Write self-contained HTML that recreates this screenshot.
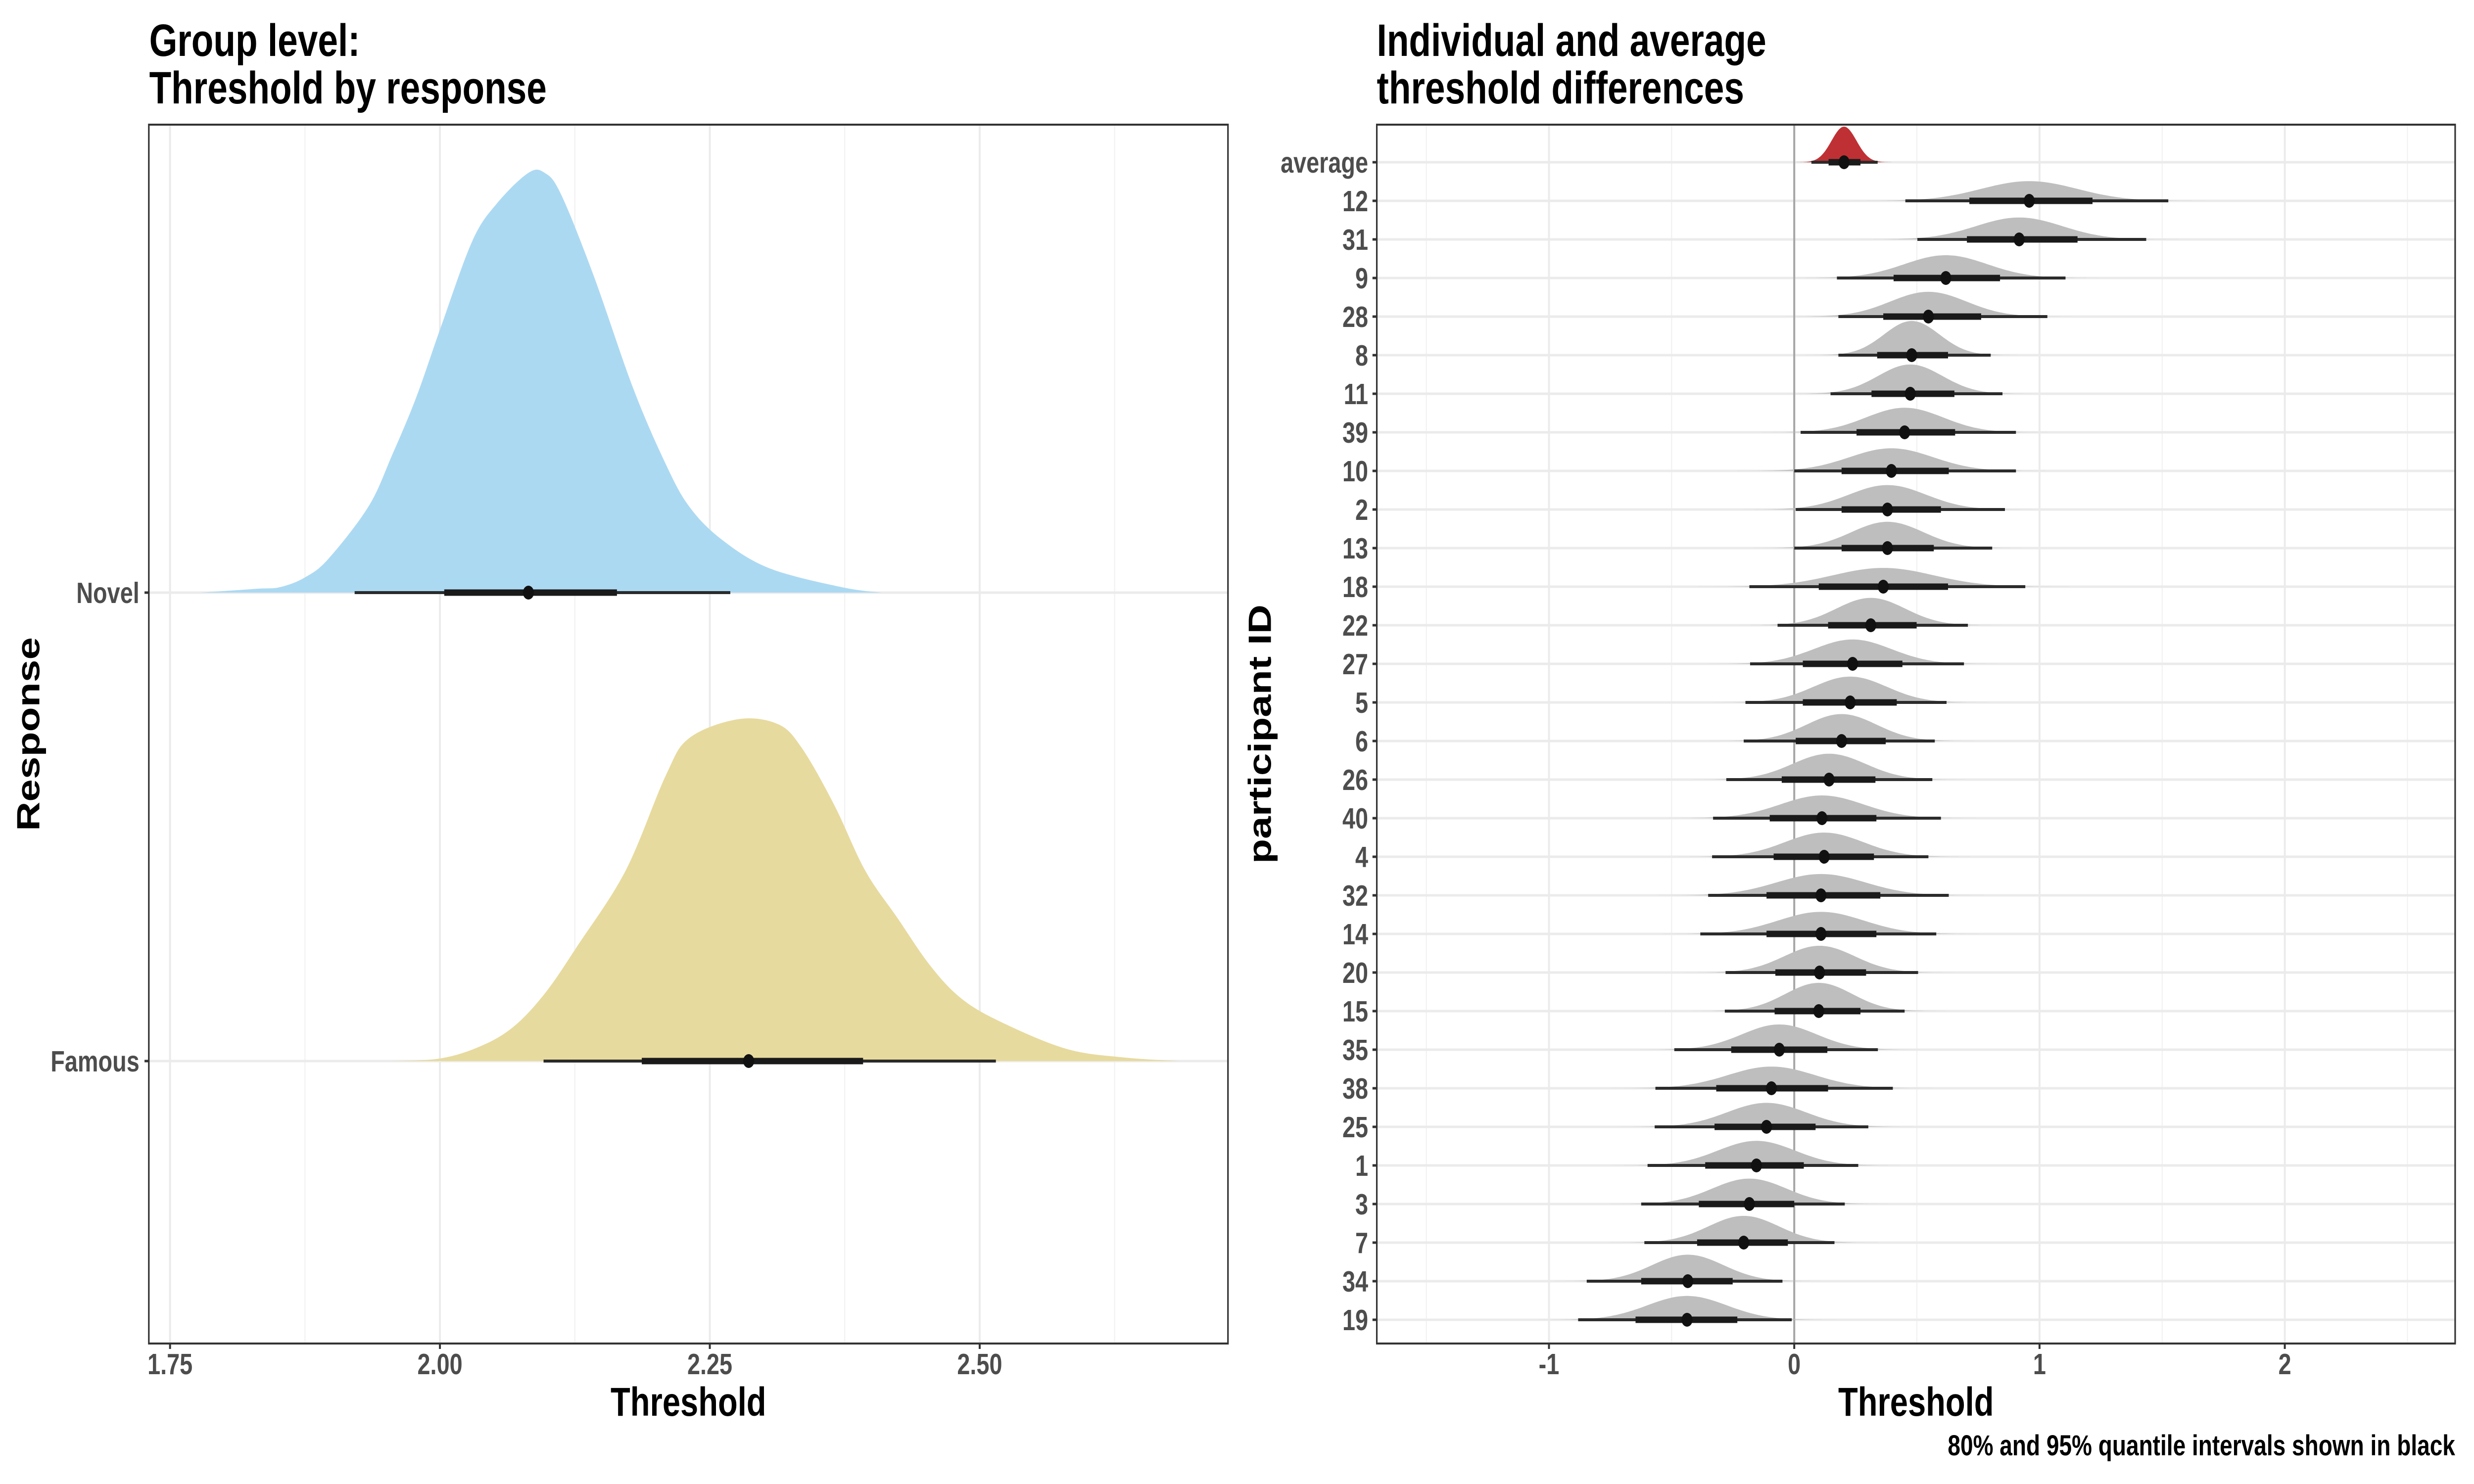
<!DOCTYPE html>
<html><head><meta charset="utf-8"><style>
html,body{margin:0;padding:0;background:#fff;width:100%;height:100%;overflow:hidden;}
svg{display:block;position:absolute;left:0;top:0;width:100vw;height:100vh;font-family:"Liberation Sans",Arial,sans-serif;}
</style></head><body>
<svg id="chart" xmlns="http://www.w3.org/2000/svg" viewBox="0 0 6300 3000" preserveAspectRatio="none">
<rect x="0" y="0" width="6300" height="3000" fill="#fff"/>
<g id="left"></g>
<g id="right"></g>
<text x="380" y="113" font-size="92" font-weight="bold" fill="#000">Group level:</text>
<text x="380" y="209" font-size="92" font-weight="bold" fill="#000">Threshold by response</text>
<text x="3506" y="113" font-size="92" font-weight="bold" fill="#000">Individual and average</text>
<text x="3506" y="209" font-size="92" font-weight="bold" fill="#000">threshold differences</text>
<text x="1753" y="2862" font-size="82" font-weight="bold" text-anchor="middle" fill="#000">Threshold</text>
<text x="4879" y="2862" font-size="82" font-weight="bold" text-anchor="middle" fill="#000">Threshold</text>
<text transform="translate(100,1484) rotate(-90)" font-size="82" font-weight="bold" text-anchor="middle" fill="#000">Response</text>
<text transform="translate(3236,1484) rotate(-90)" font-size="82" font-weight="bold" text-anchor="middle" fill="#000">participant ID</text>
<text x="6252" y="2942" font-size="58" font-weight="bold" text-anchor="end" fill="#000">80% and 95% quantile intervals shown in black</text>
</svg>
<script>
// ---------- LEFT PANEL DATA ----------
const leftCats = ['Novel', 'Famous'];
const novelX = [1.778,1.830,1.852,1.875,1.897,1.934,1.956,1.978,2.001,2.030,2.053,2.082,2.097,2.112,2.142,2.179,2.209,2.231,2.261,2.305,2.372,2.409];
const novelH = [0,0.009,0.013,0.036,0.081,0.205,0.328,0.463,0.631,0.834,0.924,0.996,0.996,0.946,0.755,0.485,0.306,0.204,0.126,0.058,0.013,0];
const famousX = [1.956,2.001,2.038,2.068,2.097,2.127,2.172,2.209,2.231,2.276,2.313,2.335,2.365,2.394,2.424,2.454,2.483,2.520,2.580,2.632,2.684];
const famousH = [0,0.008,0.044,0.100,0.197,0.335,0.557,0.834,0.945,1,0.986,0.917,0.751,0.557,0.418,0.280,0.183,0.114,0.036,0.011,0];
const leftMed  = [2.082, 2.286];
const leftLo80 = [2.004, 2.187];
const leftHi80 = [2.164, 2.392];
const leftLo95 = [1.921, 2.096];
const leftHi95 = [2.269, 2.515];
const leftTicks = [1.75, 2.00, 2.25, 2.50];
const leftTickLabels = ['1.75', '2.00', '2.25', '2.50'];
const leftMinor = [1.875, 2.125, 2.375, 2.625];

// ---------- RIGHT PANEL DATA ----------
const ids   = ['average','12','31','9','28','8','11','39','10','2','13','18','22','27','5','6','26','40','4','32','14','20','15','35','38','25','1','3','7','34','19'];
const med   = [0.203,0.958,0.917,0.618,0.547,0.479,0.473,0.450,0.396,0.380,0.380,0.363,0.312,0.238,0.228,0.193,0.142,0.113,0.122,0.109,0.109,0.103,0.100,-0.061,-0.093,-0.113,-0.154,-0.183,-0.206,-0.434,-0.437];
const lo80  = [0.14,0.714,0.704,0.405,0.363,0.338,0.315,0.254,0.193,0.193,0.193,0.100,0.138,0.035,0.035,0.006,-0.051,-0.100,-0.084,-0.113,-0.113,-0.077,-0.080,-0.257,-0.318,-0.325,-0.363,-0.389,-0.396,-0.624,-0.647];
const hi80  = [0.27,1.216,1.155,0.839,0.762,0.627,0.653,0.656,0.630,0.598,0.569,0.627,0.499,0.441,0.418,0.373,0.331,0.335,0.325,0.351,0.335,0.293,0.270,0.135,0.138,0.087,0.039,0.0,-0.026,-0.251,-0.232];
const lo95  = [0.07,0.453,0.502,0.174,0.180,0.180,0.148,0.026,0.0,0.006,0.0,-0.183,-0.068,-0.180,-0.199,-0.206,-0.277,-0.331,-0.335,-0.351,-0.383,-0.280,-0.283,-0.489,-0.566,-0.569,-0.598,-0.624,-0.611,-0.846,-0.881];
const hi95  = [0.34,1.525,1.435,1.106,1.032,0.801,0.849,0.904,0.904,0.859,0.807,0.942,0.708,0.692,0.621,0.573,0.563,0.598,0.547,0.630,0.579,0.505,0.450,0.341,0.402,0.302,0.261,0.206,0.164,-0.048,-0.010];
const rightTicks = [-1, 0, 1, 2];
const rightTickLabels = ['-1', '0', '1', '2'];
const rightMinor = [-1.5, -0.5, 0.5, 1.5, 2.5];

const NS = 'http://www.w3.org/2000/svg';
function mk(parent, tag, attrs) {
  const e = document.createElementNS(NS, tag);
  for (const k in attrs) e.setAttribute(k, attrs[k]);
  parent.appendChild(e);
  return e;
}
function smoothPath(pts) {
  let d = 'M' + pts[0][0].toFixed(1) + ',' + pts[0][1].toFixed(1);
  for (let i = 0; i < pts.length - 1; i++) {
    const p0 = pts[Math.max(0, i - 1)], p1 = pts[i], p2 = pts[i + 1], p3 = pts[Math.min(pts.length - 1, i + 2)];
    const c1x = p1[0] + (p2[0] - p0[0]) / 6, c1y = p1[1] + (p2[1] - p0[1]) / 6;
    const c2x = p2[0] - (p3[0] - p1[0]) / 6, c2y = p2[1] - (p3[1] - p1[1]) / 6;
    d += ' C' + c1x.toFixed(1) + ',' + c1y.toFixed(1) + ' ' + c2x.toFixed(1) + ',' + c2y.toFixed(1) + ' ' + p2[0].toFixed(1) + ',' + p2[1].toFixed(1);
  }
  return d;
}

// ---------- LEFT PANEL ----------
const L = document.getElementById('left');
const LB = {x0: 379, x1: 3127, y0: 252, y1: 2716};
const lx = v => 433 + (v - 1.75) * 2749;
const ly = i => 1198 + i * 947;
leftMinor.forEach(v => {
  const e = mk(L, 'line', {x1: lx(v), x2: lx(v), y1: LB.y0, y2: LB.y1, stroke: '#f0f0f0', 'stroke-width': 2.5});
  
  
});
leftTicks.forEach((v, i) => {
  const e = mk(L, 'line', {x1: lx(v), x2: lx(v), y1: LB.y0, y2: LB.y1, stroke: '#ebebeb', 'stroke-width': 5});
  
  
  const t = mk(L, 'line', {x1: lx(v), x2: lx(v), y1: LB.y1, y2: LB.y1 + 11, stroke: '#333', 'stroke-width': 5});
  
  
  const tx = mk(L, 'text', {x: lx(v), y: 2778, 'font-size': 59, 'font-weight': 'bold', fill: '#4d4d4d', 'text-anchor': 'middle'});
  tx.textContent = leftTickLabels[i];
  
  
});
leftCats.forEach((c, i) => {
  const e = mk(L, 'line', {x1: LB.x0, x2: LB.x1, y1: ly(i), y2: ly(i), stroke: '#ebebeb', 'stroke-width': 5});
  
  
  const t = mk(L, 'line', {x1: LB.x0 - 11, x2: LB.x0, y1: ly(i), y2: ly(i), stroke: '#333', 'stroke-width': 5});
  
  
  const tx = mk(L, 'text', {x: 355, y: ly(i) + 21, 'font-size': 59, 'font-weight': 'bold', fill: '#4d4d4d', 'text-anchor': 'end'});
  tx.textContent = c;
  
  
});
function leftDensity(xs, hs, i, maxH, color, name) {
  const pts = xs.map((v, k) => [lx(v), ly(i) - hs[k] * maxH]);
  let d = smoothPath(pts) + ' L' + lx(xs[xs.length - 1]) + ',' + ly(i) + ' L' + lx(xs[0]) + ',' + ly(i) + ' Z';
  const p = mk(L, 'path', {d: d, fill: color});
  
  
}
leftDensity(novelX, novelH, 0, 852, '#acd9f2', 'novel-density');
leftDensity(famousX, famousH, 1, 691, '#e7da9e', 'famous-density');
leftCats.forEach((c, i) => {
  const a = mk(L, 'line', {x1: lx(leftLo95[i]), x2: lx(leftHi95[i]), y1: ly(i), y2: ly(i), stroke: '#2b2b2b', 'stroke-width': 6});
  
  
  const b = mk(L, 'line', {x1: lx(leftLo80[i]), x2: lx(leftHi80[i]), y1: ly(i), y2: ly(i), stroke: '#1a1a1a', 'stroke-width': 13});
  
  
  const pt = mk(L, 'circle', {cx: lx(leftMed[i]), cy: ly(i), r: 14, fill: '#111'});
  
  
});
const lbox = mk(L, 'rect', {x: LB.x0, y: LB.y0, width: LB.x1 - LB.x0, height: LB.y1 - LB.y0, fill: 'none', stroke: '#333', 'stroke-width': 4});



// ---------- RIGHT PANEL ----------
const R = document.getElementById('right');
const RB = {x0: 3506, x1: 6252, y0: 252, y1: 2716};
const rx = v => 4569 + v * 624.6;
const ry = i => 328 + i * 78;
rightMinor.forEach(v => {
  const e = mk(R, 'line', {x1: rx(v), x2: rx(v), y1: RB.y0, y2: RB.y1, stroke: '#f0f0f0', 'stroke-width': 2.5});
  
  
});
rightTicks.forEach((v, i) => {
  const e = mk(R, 'line', {x1: rx(v), x2: rx(v), y1: RB.y0, y2: RB.y1, stroke: '#ebebeb', 'stroke-width': 5});
  
  
  const t = mk(R, 'line', {x1: rx(v), x2: rx(v), y1: RB.y1, y2: RB.y1 + 11, stroke: '#333', 'stroke-width': 5});
  
  
  const tx = mk(R, 'text', {x: rx(v), y: 2778, 'font-size': 59, 'font-weight': 'bold', fill: '#4d4d4d', 'text-anchor': 'middle'});
  tx.textContent = rightTickLabels[i];
  
  
});
ids.forEach((id, i) => {
  const e = mk(R, 'line', {x1: RB.x0, x2: RB.x1, y1: ry(i), y2: ry(i), stroke: '#ebebeb', 'stroke-width': 5});
  
  
  const t = mk(R, 'line', {x1: RB.x0 - 11, x2: RB.x0, y1: ry(i), y2: ry(i), stroke: '#333', 'stroke-width': 5});
  
  
  const tx = mk(R, 'text', {x: 3484, y: ry(i) + 21, 'font-size': 59, 'font-weight': 'bold', fill: '#4d4d4d', 'text-anchor': 'end'});
  tx.textContent = id;
  
  
});
const zl = mk(R, 'line', {x1: rx(0), x2: rx(0), y1: RB.y0, y2: RB.y1, stroke: '#a6a6a6', 'stroke-width': 5});


ids.forEach((id, i) => {
  const sd = (hi80[i] - lo80[i]) / 2.563;
  const isAvg = id === 'average';
  const h = isAvg ? 72 : Math.min(72, 7.8 / sd);
  const pts = [];
  for (let k = 0; k <= 80; k++) {
    const v = med[i] - 4 * sd + k * (8 * sd / 80);
    const z = (v - med[i]) / sd;
    pts.push([rx(v), ry(i) - h * Math.exp(-0.5 * z * z)]);
  }
  const d = smoothPath(pts) + ' L' + pts[pts.length - 1][0].toFixed(1) + ',' + ry(i) + ' L' + pts[0][0].toFixed(1) + ',' + ry(i) + ' Z';
  const p = mk(R, 'path', {d: d, fill: isAvg ? '#bf3034' : '#bebebe'});
  
  
});
ids.forEach((id, i) => {
  const a = mk(R, 'line', {x1: rx(lo95[i]), x2: rx(hi95[i]), y1: ry(i), y2: ry(i), stroke: '#2b2b2b', 'stroke-width': 6});
  
  
  const b = mk(R, 'line', {x1: rx(lo80[i]), x2: rx(hi80[i]), y1: ry(i), y2: ry(i), stroke: '#1a1a1a', 'stroke-width': 13});
  
  
  const pt = mk(R, 'circle', {cx: rx(med[i]), cy: ry(i), r: 14, fill: '#111'});
  
  
});
const rbox = mk(R, 'rect', {x: RB.x0, y: RB.y0, width: RB.x1 - RB.x0, height: RB.y1 - RB.y0, fill: 'none', stroke: '#333', 'stroke-width': 4});


</script>
</body></html>
